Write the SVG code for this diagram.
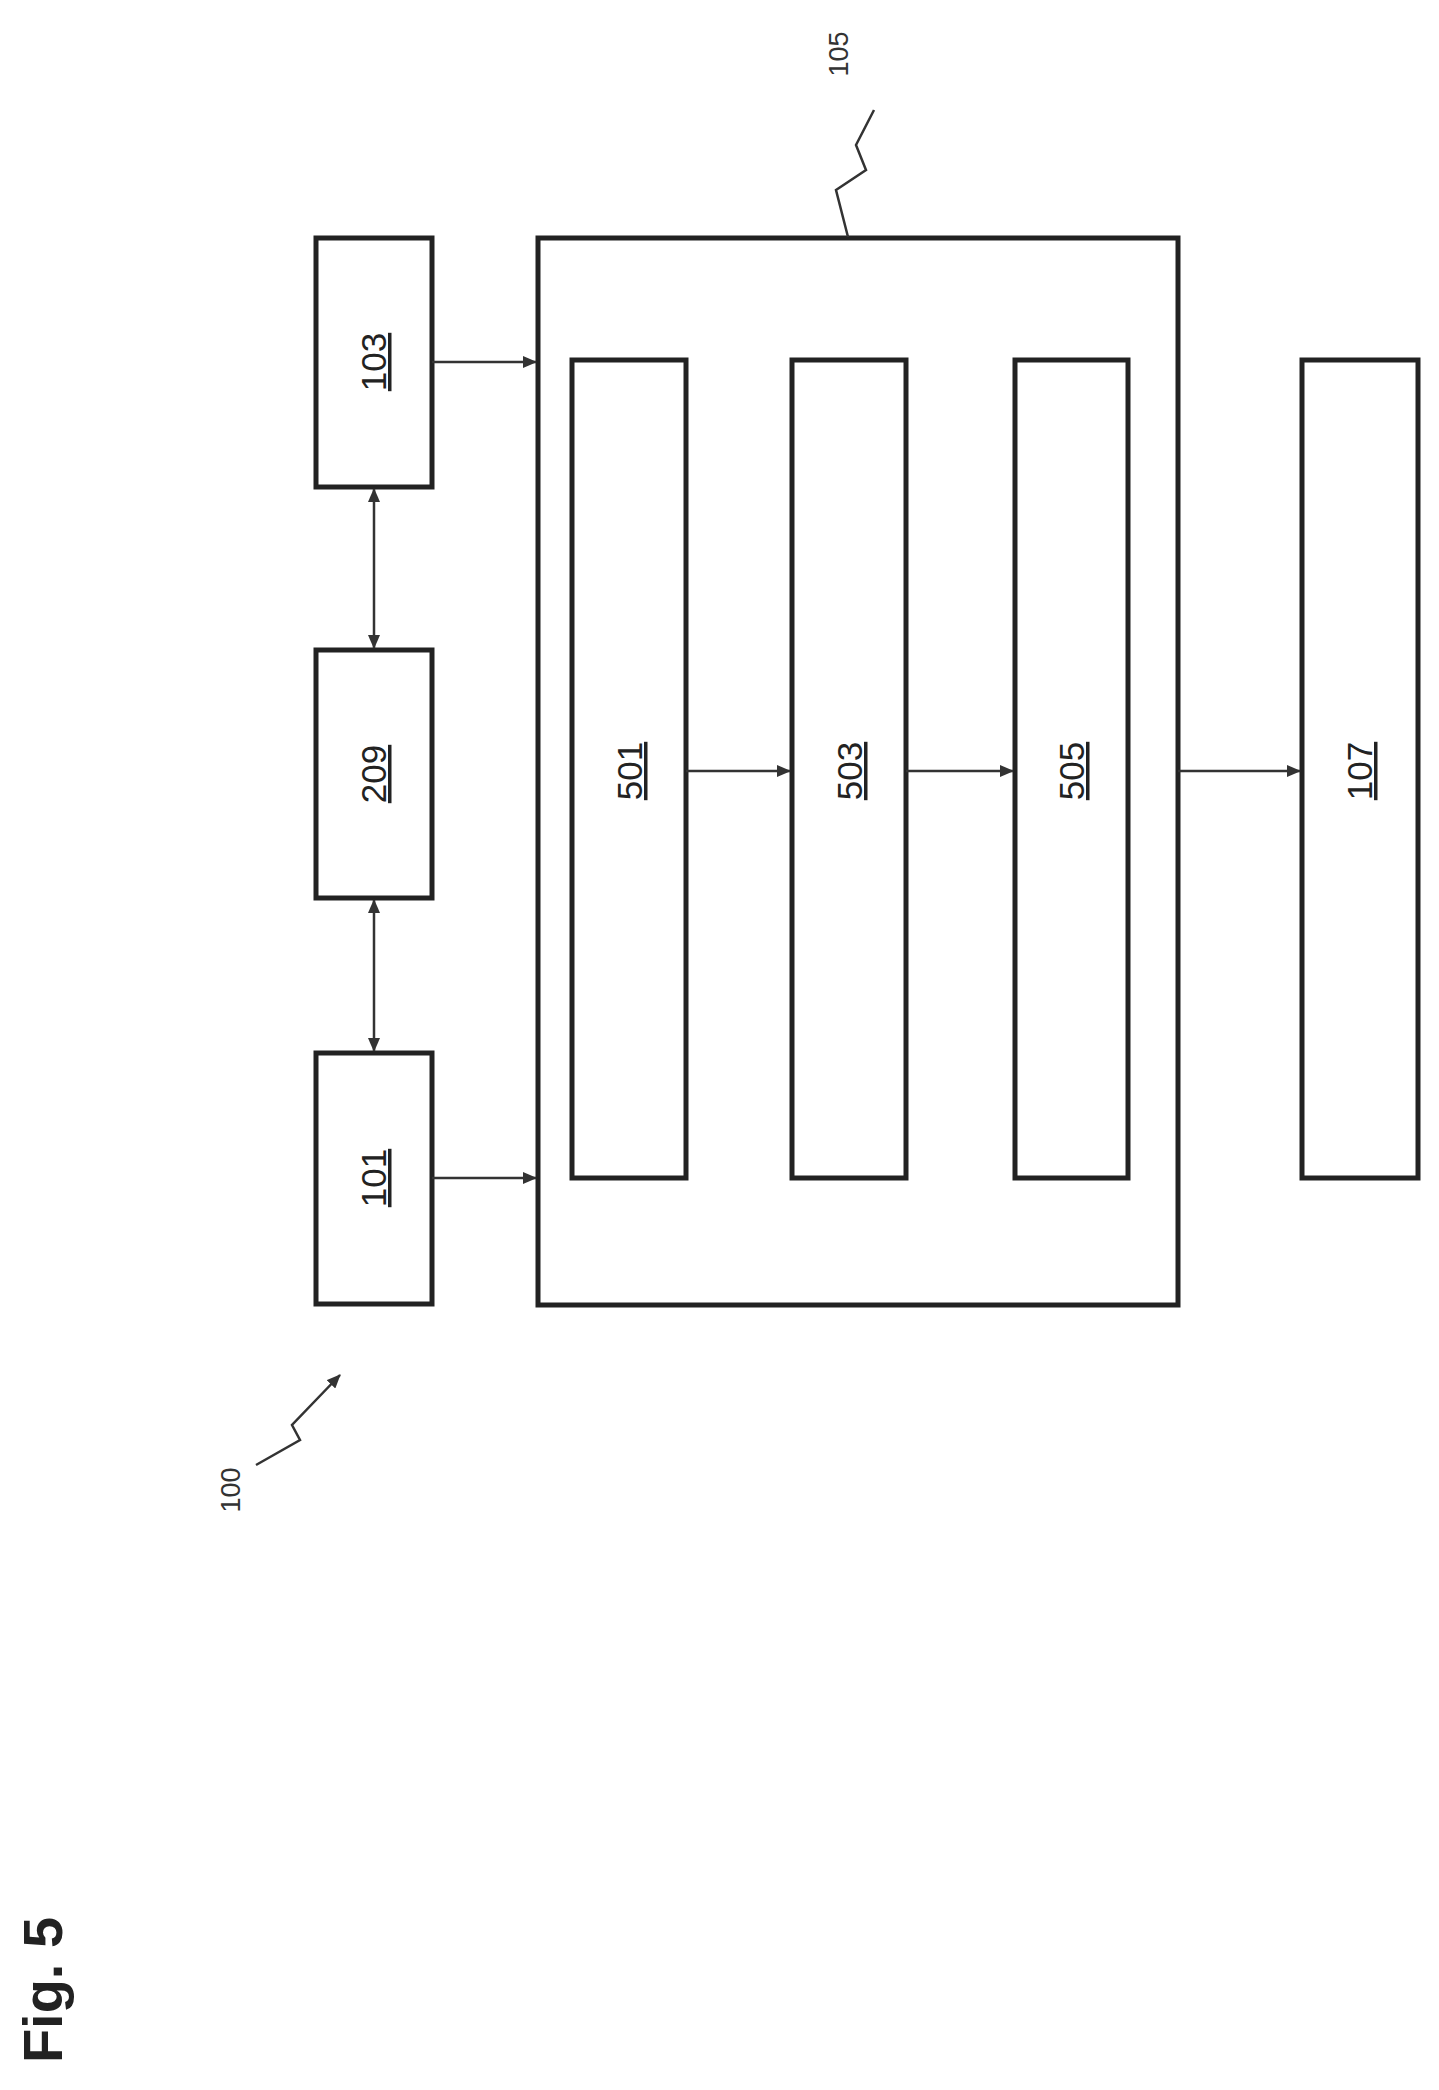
<svg xmlns="http://www.w3.org/2000/svg" width="1439" height="2090" viewBox="0 0 1439 2090">
<style>
.box{fill:none;stroke:#222;stroke-width:5}
.ln{fill:none;stroke:#333;stroke-width:2.5}
.lbl{font-family:"Liberation Sans",Arial,sans-serif;font-size:35px;fill:#222;text-anchor:middle;text-decoration:underline}
.ref{font-family:"Liberation Sans",Arial,sans-serif;font-size:27px;fill:#333;text-anchor:middle}
</style>
<defs>
<marker id="ah" markerWidth="14" markerHeight="12" refX="13" refY="6" orient="auto-start-reverse" markerUnits="userSpaceOnUse">
<path d="M0,0 L14,6 L0,12 Z" fill="#333"/>
</marker>
</defs>
<rect width="1439" height="2090" fill="#fff"/>
<g id="n103"><rect class="box" x="316" y="238" width="116" height="249"/><text class="lbl" transform="translate(386,362) rotate(-90)">103</text></g>
<g id="n209"><rect class="box" x="316" y="650" width="116" height="248"/><text class="lbl" transform="translate(386,774) rotate(-90)">209</text></g>
<g id="n101"><rect class="box" x="316" y="1053" width="116" height="251"/><text class="lbl" transform="translate(386,1178) rotate(-90)">101</text></g>
<g id="n105"><rect class="box" x="538" y="238" width="640" height="1067"/></g>
<g id="n501"><rect class="box" x="572" y="360" width="114" height="818"/><text class="lbl" transform="translate(642,771) rotate(-90)">501</text></g>
<g id="n503"><rect class="box" x="792" y="360" width="114" height="818"/><text class="lbl" transform="translate(862,771) rotate(-90)">503</text></g>
<g id="n505"><rect class="box" x="1015" y="360" width="113" height="818"/><text class="lbl" transform="translate(1084,771) rotate(-90)">505</text></g>
<g id="n107"><rect class="box" x="1302" y="360" width="116" height="818"/><text class="lbl" transform="translate(1372,771) rotate(-90)">107</text></g>
<g id="connectors">
<line class="ln" x1="432" y1="362" x2="536" y2="362" marker-end="url(#ah)"/>
<line class="ln" x1="432" y1="1178" x2="536" y2="1178" marker-end="url(#ah)"/>
<line class="ln" x1="374" y1="489" x2="374" y2="648" marker-start="url(#ah)" marker-end="url(#ah)"/>
<line class="ln" x1="374" y1="900" x2="374" y2="1051" marker-start="url(#ah)" marker-end="url(#ah)"/>
<line class="ln" x1="686" y1="771" x2="790" y2="771" marker-end="url(#ah)"/>
<line class="ln" x1="906" y1="771" x2="1013" y2="771" marker-end="url(#ah)"/>
<line class="ln" x1="1178" y1="771" x2="1300" y2="771" marker-end="url(#ah)"/>
<path class="ln" d="M848,237 L836,190 L866,170 L856,145 L874,110"/>
<path class="ln" d="M256,1465 L300,1440 L292,1425 L340,1375" marker-end="url(#ah)"/>
</g>
<text class="ref" transform="translate(848,54) rotate(-90)">105</text>
<text class="ref" transform="translate(240,1490) rotate(-90)">100</text>
<text transform="translate(62,1990) rotate(-90)" style="font-family:'Liberation Sans',Arial,sans-serif;font-size:56px;font-weight:bold;fill:#222;text-anchor:middle">Fig. 5</text>
</svg>
